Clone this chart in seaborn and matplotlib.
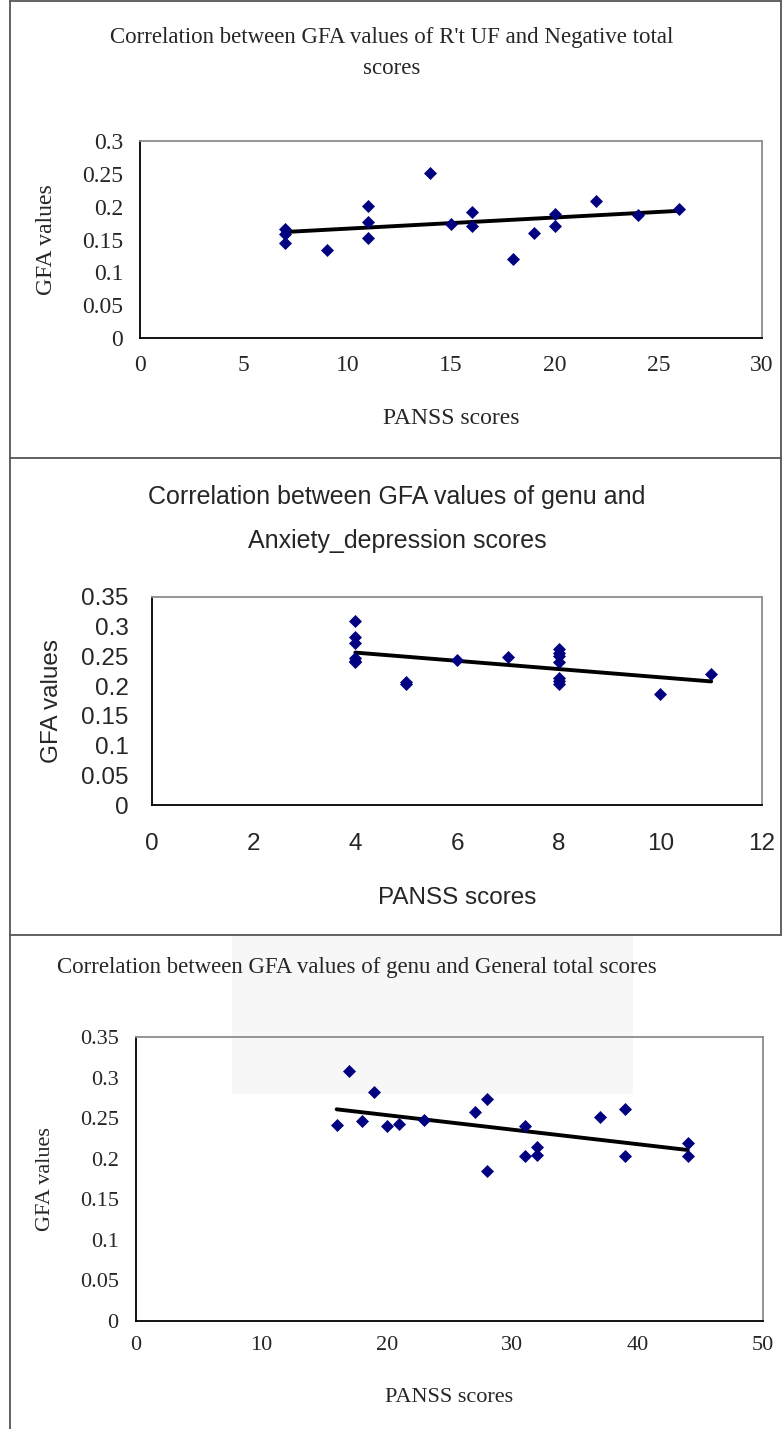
import matplotlib
matplotlib.use("Agg")
import matplotlib.pyplot as plt
from matplotlib.lines import Line2D
from matplotlib.patches import Rectangle
import seaborn as sns
import pandas as pd

sns.set_style("white")

# ---------------- data ----------------
p1_x = [7, 7, 7, 9, 11, 11, 11, 14, 15, 16, 16, 18, 19, 20, 20, 22, 24, 26]
p1_y = [0.166, 0.158, 0.145, 0.134, 0.2005, 0.177, 0.1525, 0.252, 0.173, 0.192,
        0.171, 0.121, 0.160, 0.189, 0.171, 0.209, 0.187, 0.197]

p2_x = [4, 4, 4, 4, 4, 4, 5, 5, 6, 7, 8, 8, 8, 8, 8, 8, 8, 10, 11]
p2_y = [0.309, 0.283, 0.273, 0.248, 0.243, 0.240, 0.2066, 0.204, 0.2436, 0.249,
        0.262, 0.256, 0.250, 0.240, 0.214, 0.209, 0.204, 0.186, 0.220]

p3_x = [16, 17, 18, 19, 20, 21, 23, 27, 28, 28, 31, 31, 32, 32, 37, 39, 39, 44, 44]
p3_y = [0.241, 0.308, 0.247, 0.282, 0.240, 0.243, 0.248, 0.257, 0.273, 0.185,
        0.240, 0.203, 0.214, 0.205, 0.251, 0.2615, 0.203, 0.219, 0.203]

titles = [
    ["Correlation between GFA values of R't UF and Negative total", "scores"],
    ["Correlation between GFA values of genu and", "Anxiety_depression scores"],
    ["Correlation between GFA values of genu and General total scores"],
]
xlabel = "PANSS scores"
ylabel = "GFA values"

p1_xticks = [0, 5, 10, 15, 20, 25, 30]
p1_yticks = [0, 0.05, 0.1, 0.15, 0.2, 0.25, 0.3]
p2_xticks = [0, 2, 4, 6, 8, 10, 12]
p2_yticks = [0, 0.05, 0.1, 0.15, 0.2, 0.25, 0.3, 0.35]
p3_xticks = [0, 10, 20, 30, 40, 50]
p3_yticks = [0, 0.05, 0.1, 0.15, 0.2, 0.25, 0.3, 0.35]

# ---------------- figure ----------------
W, H = 783, 1429
fig = plt.figure(figsize=(W / 100, H / 100), dpi=100)
fig.patch.set_facecolor("white")

SERIF = ["Liberation Serif", "DejaVu Serif"]
SANS = ["Liberation Sans", "DejaVu Sans"]


def ax_at(left, top, right, bottom):
    return fig.add_axes([left / W, 1 - bottom / H, (right - left) / W, (bottom - top) / H])


def fmt(v):
    return "%g" % v


def panel(ax, xs, ys, xticks, yticks, family, tsize, lsize, xpad, ypad,
          ylab_px, xlab_px, box):
    left, top, right, bottom = box
    df = pd.DataFrame({"x": xs, "y": ys})
    sns.regplot(data=df, x="x", y="y", ax=ax, ci=None, truncate=True, marker="D",
                scatter_kws=dict(s=44, color="#000080", linewidths=0, alpha=1, zorder=3),
                line_kws=dict(color="black", lw=2.8, zorder=2))
    ax.set_xlim(xticks[0], xticks[-1])
    ax.set_ylim(yticks[0], yticks[-1])
    ax.set_xticks(xticks)
    ax.set_yticks(yticks)
    ax.set_xticklabels([fmt(v) for v in xticks], family=family, fontsize=tsize)
    ax.set_yticklabels([fmt(v) for v in yticks], family=family, fontsize=tsize)
    ax.tick_params(axis="both", direction="in", length=4.5, width=1.0, color="black")
    ax.tick_params(axis="x", pad=xpad)
    ax.tick_params(axis="y", pad=ypad)
    for s in ["left", "bottom"]:
        ax.spines[s].set_color("black")
        ax.spines[s].set_linewidth(1.3)
    for s in ["top", "right"]:
        ax.spines[s].set_color("#8c8c8c")
        ax.spines[s].set_linewidth(1.3)
    ax.set_xlabel(xlabel, family=family, fontsize=lsize)
    ax.set_ylabel(ylabel, family=family, fontsize=lsize)
    ax.xaxis.label.set_va("center")
    ax.yaxis.label.set_va("center")
    ax.xaxis.set_label_coords(0.5, -(xlab_px - bottom) / (bottom - top))
    ax.yaxis.set_label_coords(-(left - ylab_px) / (right - left), 0.5)
    ax.grid(False)


# faint watermark box (behind panel 3)
fig.add_artist(Rectangle((232 / W, 1 - 1094 / H), (633 - 232) / W, (1094 - 936) / H,
                         transform=fig.transFigure, facecolor="#f7f7f7",
                         edgecolor="none", zorder=-5))

# panel 1
box1 = (140, 141, 762, 338)
ax1 = ax_at(*box1)
panel(ax1, p1_x, p1_y, p1_xticks, p1_yticks, SERIF, 17, 17, 12, 12, 46, 418, box1)
fig.text(392 / W, 1 - 37 / H, titles[0][0], family=SERIF, fontsize=16.5, ha="center", va="center")
fig.text(392 / W, 1 - 68 / H, titles[0][1], family=SERIF, fontsize=16.5, ha="center", va="center")

# panel 2
box2 = (152, 597, 762, 805)
ax2 = ax_at(*box2)
panel(ax2, p2_x, p2_y, p2_xticks, p2_yticks, SANS, 17.5, 17.5, 20, 17, 52, 898, box2)
fig.text(397 / W, 1 - 497 / H, titles[1][0], family=SANS, fontsize=18, ha="center", va="center")
fig.text(397 / W, 1 - 541 / H, titles[1][1], family=SANS, fontsize=18, ha="center", va="center")

# panel 3
box3 = (136, 1037, 763, 1321)
ax3 = ax_at(*box3)
ax3.set_facecolor("none")
panel(ax3, p3_x, p3_y, p3_xticks, p3_yticks, SERIF, 16, 16, 11, 12.5, 45, 1397, box3)
fig.text(357 / W, 1 - 967 / H, titles[2][0], family=SERIF, fontsize=16.5, ha="center", va="center")

# frame lines
lc = "#555555"
lw = 1.3
for y in [1, 458, 935]:
    fig.add_artist(Line2D([10 / W, 781 / W], [1 - y / H, 1 - y / H], transform=fig.transFigure,
                          color=lc, lw=lw))
fig.add_artist(Line2D([10 / W, 10 / W], [0, 1 - 1 / H], transform=fig.transFigure, color=lc, lw=lw))
fig.add_artist(Line2D([781 / W, 781 / W], [1 - 935 / H, 1 - 1 / H], transform=fig.transFigure,
                      color=lc, lw=lw))

fig.savefig("out.png", dpi=100)
